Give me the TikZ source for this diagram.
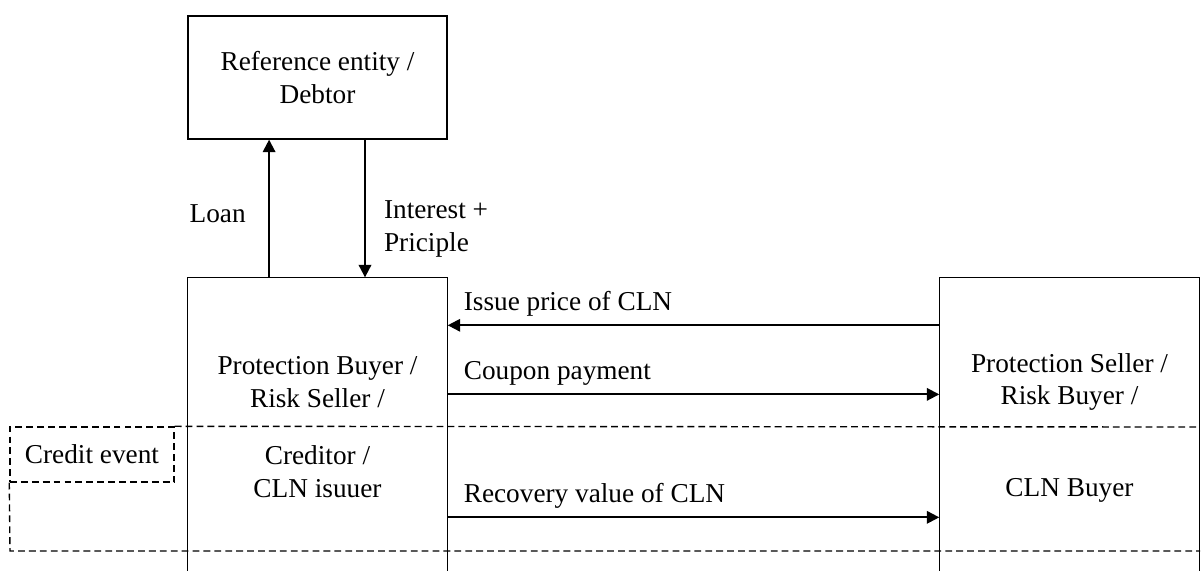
\documentclass[tikz,border=0pt]{standalone}
\usepackage{fontspec}
\setmainfont{Liberation Serif}
\usetikzlibrary{positioning,arrows.meta,calc}

\tikzset{
	party/.style={minimum width=114pt, inner sep=0pt, align=center},
	flow/.style={-{Triangle[width=5.5pt,length=5.5pt]}, line width=0.9pt},
	event/.style={dash pattern=on 3pt off 1.8pt, line width=0.6pt},
}

\begin{document}
\begin{tikzpicture}[x=0.44pt,y=-0.44pt,line width=0.6pt,font=\fontsize{12}{14.5}\selectfont]

			\useasboundingbox (0,0) rectangle (1202,571);

			%reference entity on top
			\node[party,draw,minimum height=54.1pt] (ref) at (317.5,77.5) {Reference entity /\\Debtor};

			%the two parties, boxes open at the bottom
			\node[party,minimum height=128.9pt] (buyer) at (317.5,424.5) {};
			\node[party,minimum height=128.9pt] (seller) at (1069.5,424.5) {};
			\draw (buyer.south west) |- (buyer.north east) -- (buyer.south east);
			\draw (seller.south west) |- (seller.north east) -- (seller.south east);

			%names of the parties
			\node[align=center] (buyertxt) at (317.5,382) {Protection Buyer /\\Risk Seller /};
			\node[align=center] (issuer) at (317.5,472) {Creditor /\\ CLN isuuer};
			\node[align=center] (sellertxt) at (1069.5,382) {Protection Seller /\\Risk Buyer /};
			\node (clnbuyer) at (1069.5,490) {CLN Buyer};

			%credit event band
			\node[event,draw,minimum width=72.2pt,minimum height=24.2pt,inner sep=0pt] (credit) at (92,454.5) {Credit event};
			\draw[event] (credit.north east) -- (1200,427);
			\draw[event] (credit.south west) -- (10,551) -- (1200,551);

			%loan and repayment
			\draw[flow] ([xshift=-21.3pt]buyer.north) -- ([xshift=-21.3pt]ref.south) node[pos=0.46,left=6.5pt] {Loan};
			\draw[flow] ([xshift=20.9pt]ref.south) -- ([xshift=20.9pt]buyer.north) node[pos=0.65,right=4.6pt,align=left] {Interest +\\Priciple};

			%payments between buyer and seller
			\draw[flow] ([yshift=-21.1pt]seller.north west) -- ([yshift=-21.1pt]buyer.north east) node[pos=1,anchor=base west,xshift=3.3pt,yshift=6.5pt] {Issue price of CLN};
			\draw[flow] ([yshift=-51.5pt]buyer.north east) -- ([yshift=-51.5pt]seller.north west) node[pos=0,anchor=base west,xshift=3.3pt,yshift=6.5pt] {Coupon payment};
			\draw[flow] ([yshift=-105.6pt]buyer.north east) -- ([yshift=-105.6pt]seller.north west) node[pos=0,anchor=base west,xshift=3.3pt,yshift=6.5pt] {Recovery value of CLN};

\end{tikzpicture}
\end{document}
